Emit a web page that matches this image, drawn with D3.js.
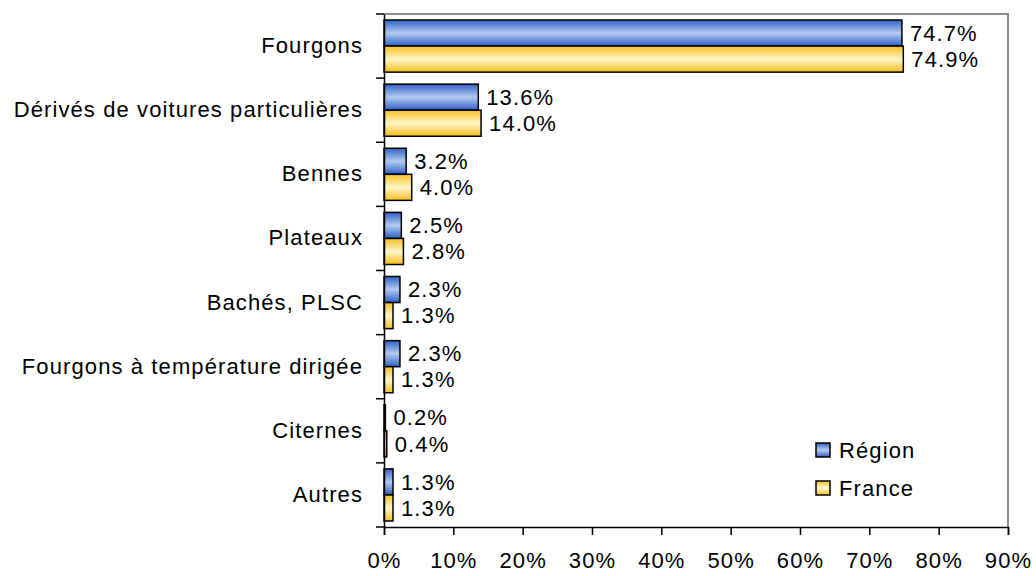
<!DOCTYPE html>
<html lang="fr">
<head>
    <meta charset="UTF-8">
    <title>Répartition par carrosserie</title>
    <script src="https://d3js.org/d3.v7.min.js"></script>
    <style>
        body { margin: 0; background: #fff; }
        text { font-family: "Liberation Sans", Arial, sans-serif; fill: #000; }
        .lbl { font-size: 22px; letter-spacing: 1.1px; }
    </style>
</head>
<body>
    <script>
        const categories = ["Fourgons", "Dérivés de voitures particulières", "Bennes", "Plateaux",
            "Bachés, PLSC", "Fourgons à température dirigée", "Citernes", "Autres"]
        const regionValues = [74.7, 13.6, 3.2, 2.5, 2.3, 2.3, 0.2, 1.3]
        const franceValues = [74.9, 14.0, 4.0, 2.8, 1.3, 1.3, 0.4, 1.3]
        const seriesNames = ["Région", "France"]
        const xTicks = [0, 10, 20, 30, 40, 50, 60, 70, 80, 90]

        const W = 1036, H = 576
        const plot = {left: 384, top: 14, right: 1008, bottom: 527}

        const svg = d3.select("body").append("svg")
            .attr("width", W)
            .attr("height", H)

        const defs = svg.append("defs")
        function gradient(id, edge, mid) {
            const g = defs.append("linearGradient")
                .attr("id", id)
                .attr("x1", 0).attr("y1", 0).attr("x2", 0).attr("y2", 1)
            g.append("stop").attr("offset", "0%").attr("stop-color", edge)
            g.append("stop").attr("offset", "50%").attr("stop-color", mid)
            g.append("stop").attr("offset", "100%").attr("stop-color", edge)
        }
        gradient("gBlue", "#2f60c4", "#b3cbf2")
        gradient("gYellow", "#f6bf1c", "#fff5cc")
        const fills = ["url(#gBlue)", "url(#gYellow)"]

        const x = d3.scaleLinear()
            .domain([0, 90])
            .range([plot.left, plot.right])

        const y = d3.scaleBand()
            .domain(categories)
            .range([plot.top, plot.bottom])

        const inner = d3.scaleBand()
            .domain([0, 1])
            .range([6, y.bandwidth() - 6])

        // plot area border (top / right, grey)
        svg.append("path")
            .attr("d", `M${plot.left},${plot.top}H${plot.right}V${plot.bottom}`)
            .attr("fill", "none")
            .attr("stroke", "#8c8c8c")
            .attr("stroke-width", 2)

        const rows = categories.map((c, i) => ({cat: c, vals: [regionValues[i], franceValues[i]]}))

        const groups = svg.append("g")
            .selectAll("g")
            .data(rows)
            .enter().append("g")
            .attr("transform", d => `translate(0,${y(d.cat)})`)

        groups.selectAll("rect")
            .data(d => d.vals)
            .enter().append("rect")
            .attr("x", x(0))
            .attr("y", (d, i) => inner(i))
            .attr("width", d => x(d) - x(0))
            .attr("height", inner.bandwidth())
            .attr("fill", (d, i) => fills[i])
            .attr("stroke", "#000")
            .attr("stroke-width", 1.5)

        groups.selectAll("text.val")
            .data(d => d.vals)
            .enter().append("text")
            .attr("class", "val lbl")
            .attr("x", d => x(d) + 8)
            .attr("y", (d, i) => inner(i) + inner.bandwidth() / 2)
            .attr("dy", "0.35em")
            .text(d => d.toFixed(1) + "%")

        // x axis
        const xAxis = svg.append("g")
            .attr("transform", `translate(0,${plot.bottom})`)
            .call(d3.axisBottom(x).tickValues(xTicks).tickSize(8).tickPadding(17)
                .tickFormat(d => d + "%"))
        xAxis.select(".domain").attr("stroke", "#000").attr("stroke-width", 1.5)
        xAxis.selectAll(".tick line").attr("stroke", "#000").attr("stroke-width", 1.5)
        xAxis.selectAll("text").attr("class", "lbl").attr("font-size", null).attr("font-family", null)

        // y axis
        const yAxis = svg.append("g")
            .attr("transform", `translate(${plot.left},0)`)
            .call(d3.axisLeft(y).tickSize(0).tickPadding(21))
        yAxis.select(".domain").attr("stroke", "#000").attr("stroke-width", 1.5)
        yAxis.selectAll("text").attr("class", "lbl")
        yAxis.attr("font-size", null).attr("font-family", null)
        xAxis.attr("font-size", null).attr("font-family", null)

        const bounds = categories.map(c => y(c)).concat([y.range()[1]])
        svg.append("g").selectAll("line")
            .data(bounds)
            .enter().append("line")
            .attr("x1", plot.left - 8)
            .attr("x2", plot.left)
            .attr("y1", d => d)
            .attr("y2", d => d)
            .attr("stroke", "#000")
            .attr("stroke-width", 1.5)

        // legend
        const legend = svg.append("g")
            .selectAll("g")
            .data(seriesNames)
            .enter().append("g")
            .attr("transform", (d, i) => `translate(816,${443 + i * 38})`)
        legend.append("rect")
            .attr("width", 14)
            .attr("height", 14)
            .attr("fill", (d, i) => fills[i])
            .attr("stroke", "#000")
            .attr("stroke-width", 1.5)
        legend.append("text")
            .attr("class", "lbl")
            .attr("x", 23)
            .attr("y", 7)
            .attr("dy", "0.35em")
            .text(d => d)
    </script>
</body>
</html>
